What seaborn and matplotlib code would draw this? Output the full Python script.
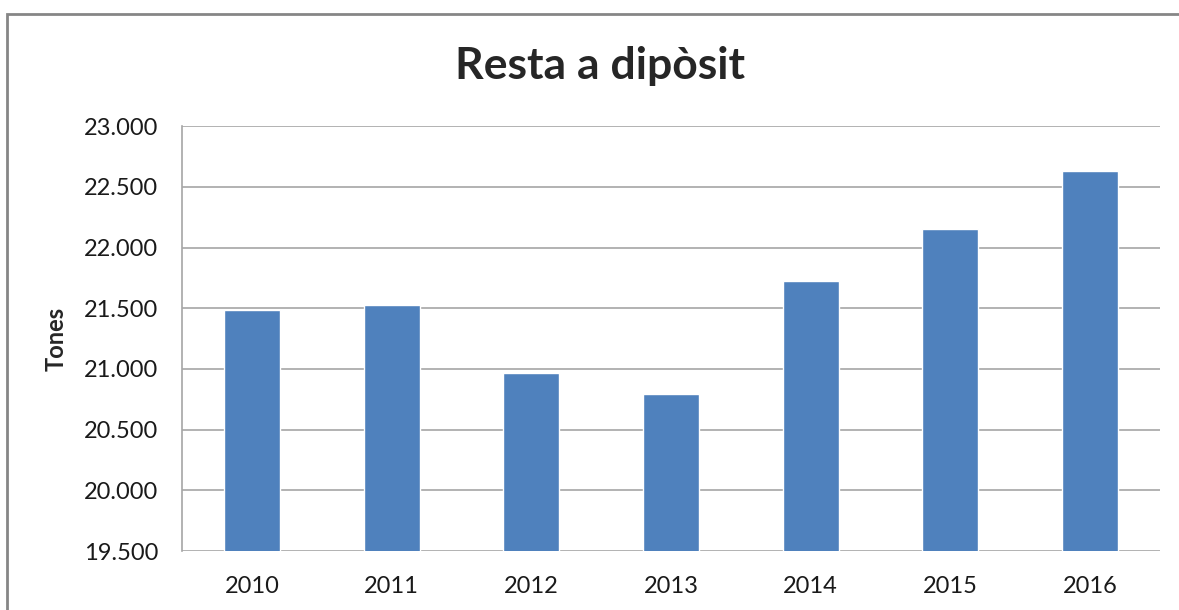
import matplotlib
matplotlib.use("Agg")
import matplotlib.pyplot as plt
import seaborn as sns
import pandas as pd
from matplotlib.patches import Rectangle
from matplotlib.ticker import FuncFormatter, MultipleLocator

years = ["2010", "2011", "2012", "2013", "2014", "2015", "2016"]
tones = [21485, 21528, 20965, 20791, 21726, 22151, 22634]

title = "Resta a dipòsit"
ylabel = "Tones"

sns.set_style("white")
plt.rcParams['font.family'] = ['Lato', 'DejaVu Sans']

df = pd.DataFrame({"Any": years, "Tones": tones})

fig = plt.figure(figsize=(11.79, 6.10), dpi=100)
ax = fig.add_axes([182 / 1179, 1 - 551 / 610, (1160 - 182) / 1179, (551 - 126.3) / 610])

sns.barplot(data=df, x="Any", y="Tones", color="#4F81BD", saturation=1, width=0.4, ax=ax)

ax.set_ylim(19500, 23000)
ax.yaxis.set_major_locator(MultipleLocator(500))
ax.yaxis.set_major_formatter(FuncFormatter(lambda v, p: f"{int(v):,}".replace(",", ".")))
ax.grid(axis="y", color="#a6a6a6", linewidth=1.2)
ax.set_axisbelow(True)

for side in ["top", "right", "bottom"]:
    ax.spines[side].set_visible(False)
ax.spines["left"].set_color("#a6a6a6")
ax.spines["left"].set_linewidth(1.2)

ax.tick_params(axis="y", length=7, width=1.2, color="#a6a6a6", labelsize=17, labelcolor="#1a1a1a", pad=10)
ax.tick_params(axis="x", length=0, labelsize=17, labelcolor="#1a1a1a", pad=18)

ax.set_xlabel("")
ax.set_ylabel(ylabel, fontsize=17, fontweight="bold")
ax.yaxis.set_label_coords((68 - 182) / 978, 0.5)

fig.text(600 / 1179, 1 - 66 / 610, title, ha="center", va="center", fontsize=32, fontweight="bold")

# chart frame
frame = Rectangle((7 / 1179, -0.05), 1.1, 1 - 14 / 610 + 0.05, transform=fig.transFigure,
                  fill=False, edgecolor="#868686", linewidth=2, clip_on=False)
fig.patches.append(frame)

fig.savefig("out.png", dpi=100)
plt.close(fig)
